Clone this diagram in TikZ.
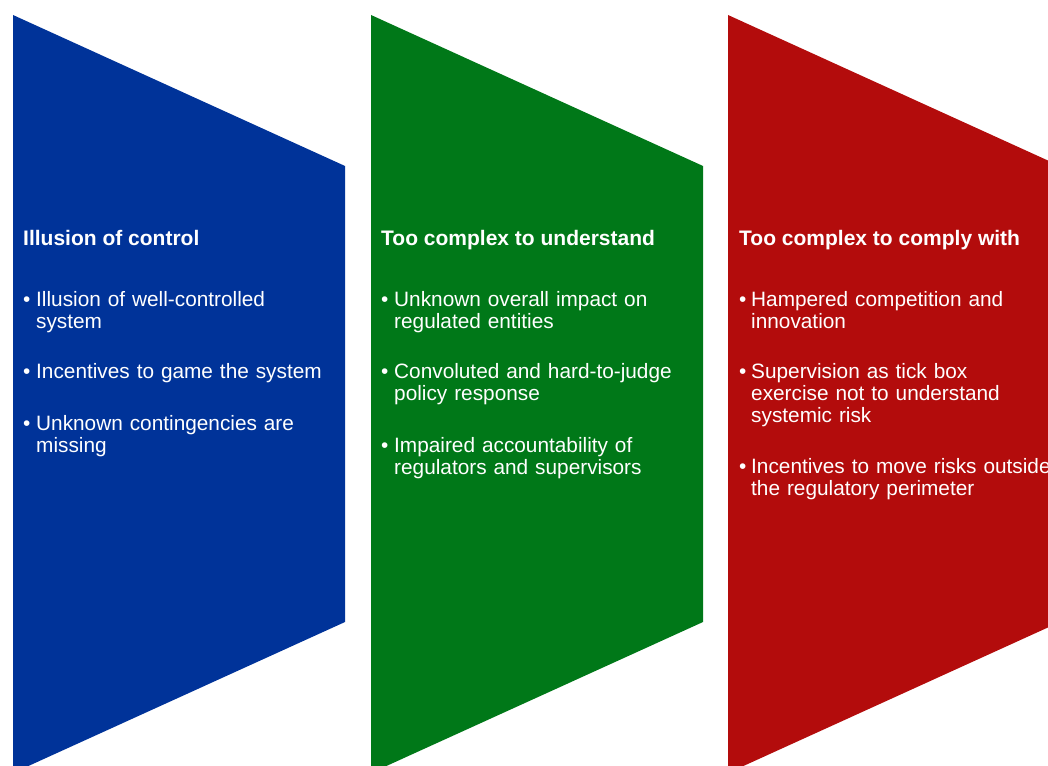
\documentclass[tikz,border=0pt]{standalone}
\usepackage{fontspec}
\setmainfont{Liberation Sans}
\definecolor{cblue}{RGB}{0,51,153}
\definecolor{cgreen}{RGB}{0,120,24}
\definecolor{cred}{RGB}{179,12,12}
\begin{document}
\begin{tikzpicture}[x=1bp,y=-1bp,
  ttl/.style={anchor=base west,inner sep=0pt,text=white,font=\fontsize{21bp}{22bp}\selectfont\bfseries},
  bul/.style={anchor=base west,inner sep=0pt,text=white,font=\fontsize{20.8bp}{22bp}\selectfont},
  item/.style={anchor=base west,inner sep=0pt,text=white,text width=330bp,align=left,font=\fontsize{20.8bp}{22bp}\selectfont}]
\useasboundingbox (0,0) rectangle (1048,766);
\clip (0,0) rectangle (1048,766);
% panels
\fill[cblue]  (13,15) -- (345,166) -- (345,622) -- (13,773) -- cycle;
\fill[cgreen] (371,15) -- (703,166) -- (703,622) -- (371,773) -- cycle;
\fill[cred]   (728,15) -- (1060,166) -- (1060,622) -- (728,773) -- cycle;
% blue
\node[ttl] (t1) at (23,245) {Illusion of control};
\node[bul] (b11) at (23,306) {•};
\node[item] (i11) at (36,306) {Illusion of well-controlled\\system};
\node[bul] (b12) at (23,378) {•};
\node[item] (i12) at (36,378) {Incentives to game the system};
\node[bul] (b13) at (23,430) {•};
\node[item] (i13) at (36,430) {Unknown contingencies are\\missing};
% green
\node[ttl] (t2) at (381,245) {Too complex to understand};
\node[bul] (b21) at (381,306) {•};
\node[item] (i21) at (394,306) {Unknown overall impact on\\regulated entities};
\node[bul] (b22) at (381,378) {•};
\node[item] (i22) at (394,378) {Convoluted and hard-to-judge\\policy response};
\node[bul] (b23) at (381,452) {•};
\node[item] (i23) at (394,452) {Impaired accountability of\\regulators and supervisors};
% red
\node[ttl] (t3) at (739,245) {Too complex to comply with};
\node[bul] (b31) at (739,306) {•};
\node[item] (i31) at (751,306) {Hampered competition and\\innovation};
\node[bul] (b32) at (739,378) {•};
\node[item] (i32) at (751,378) {Supervision as tick box\\exercise not to understand\\systemic risk};
\node[bul] (b33) at (739,473) {•};
\node[item] (i33) at (751,473) {Incentives to move risks outside\\the regulatory perimeter};
\end{tikzpicture}
\end{document}
